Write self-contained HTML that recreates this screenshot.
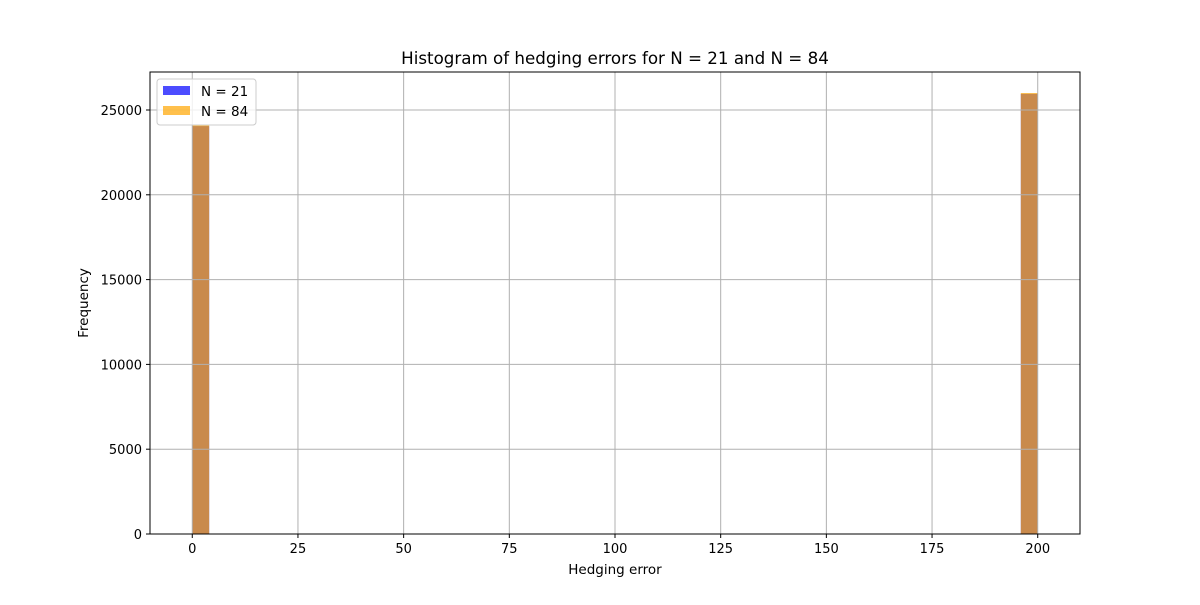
<!DOCTYPE html>
<html><head><meta charset="utf-8"><style>
body{margin:0;background:#fff;font-family:"Liberation Sans","DejaVu Sans",sans-serif}
</style></head><body>
<svg id="c" width="1200" height="600" xmlns="http://www.w3.org/2000/svg" font-family="DejaVu Sans, Liberation Sans, sans-serif"></svg>
<script>
const binEdges=[0,4,196,200];
const seriesN21=[24050,0,25950];
const seriesN84=[24100,0,26000];
const xTicks=[0,25,50,75,100,125,150,175,200];
const yTicks=[0,5000,10000,15000,20000,25000];
const L=150,R=1080,T=72,B=534;
const xMin=-10,xMax=210,yMax=27240;
const sx=v=>L+(v-xMin)/(xMax-xMin)*(R-L);
const sy=v=>B-v/yMax*(B-T);
const svg=document.getElementById('c');
const NS='http://www.w3.org/2000/svg';
function mk(t,a,p){const e=document.createElementNS(NS,t);for(const k in a)e.setAttribute(k,a[k]);(p||svg).appendChild(e);return e;}
function bars(vals,color,name){
  for(let i=0;i<vals.length;i++){
    if(!vals[i])continue;
    const x0=sx(binEdges[i]),x1=sx(binEdges[i+1]);
    const r=mk('rect',{x:x0,y:sy(vals[i]),width:x1-x0,height:B-sy(vals[i]),fill:color,'fill-opacity':0.7});
    
    
  }
}
bars(seriesN21,'#0000ff','n21');
bars(seriesN84,'#ffa500','n84');
xTicks.forEach(v=>{
  const g=mk('line',{x1:sx(v),x2:sx(v),y1:T,y2:B,stroke:'#b0b0b0','stroke-width':1});
  
  mk('line',{x1:sx(v),x2:sx(v),y1:B,y2:B+4,stroke:'#000'});
  const t=mk('text',{x:sx(v),y:B+19,'text-anchor':'middle','font-size':13});t.textContent=v;
  
});
yTicks.forEach(v=>{
  const g=mk('line',{x1:L,x2:R,y1:sy(v),y2:sy(v),stroke:'#b0b0b0','stroke-width':1});
  
  mk('line',{x1:L-4,x2:L,y1:sy(v),y2:sy(v),stroke:'#000'});
  const t=mk('text',{x:L-8,y:sy(v)+5,'text-anchor':'end','font-size':13});t.textContent=v;
  
});
const fr=mk('rect',{x:L,y:T,width:R-L,height:B-T,fill:'none',stroke:'#000','stroke-width':1});

let t=mk('text',{x:615,y:64,'text-anchor':'middle','font-size':16.7});t.textContent='Histogram of hedging errors for N = 21 and N = 84';

t=mk('text',{x:615,y:574,'text-anchor':'middle','font-size':13.5});t.textContent='Hedging error';

t=mk('text',{x:88,y:303,'text-anchor':'middle','font-size':13.5,transform:'rotate(-90 88 303)'});t.textContent='Frequency';

const lg=mk('g',{});

mk('rect',{x:157,y:79,width:99,height:46,rx:3,fill:'#fff','fill-opacity':0.8,stroke:'#ccc'},lg);
[['N = 21','#0000ff',86],['N = 84','#ffa500',106]].forEach(([lab,c,y])=>{
  const e=mk('g',{},lg);
  
  mk('rect',{x:163,y:y,width:27,height:9,fill:c,'fill-opacity':0.7},e);
  const tt=mk('text',{x:201,y:y+10,'font-size':13.5},e);tt.textContent=lab;
});
</script>
</body></html>
